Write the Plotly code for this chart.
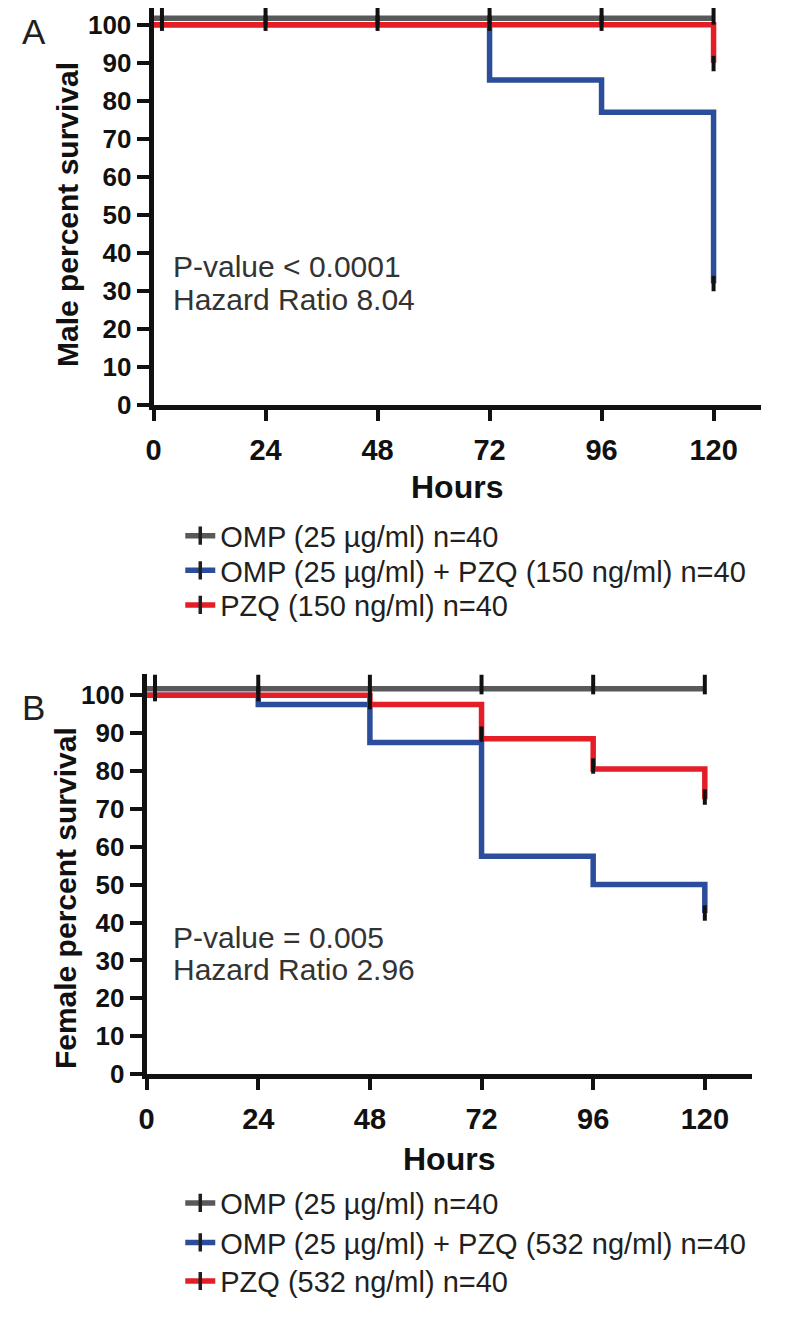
import plotly.graph_objects as go

# ---------------- data ----------------
hour_ticks = [0, 24, 48, 72, 96, 120]
surv_ticks = [0, 10, 20, 30, 40, 50, 60, 70, 80, 90, 100]

series_names_a = ["OMP (25 µg/ml) n=40",
                  "OMP (25 µg/ml) + PZQ (150 ng/ml) n=40",
                  "PZQ (150 ng/ml) n=40"]
series_names_b = ["OMP (25 µg/ml) n=40",
                  "OMP (25 µg/ml) + PZQ (532 ng/ml) n=40",
                  "PZQ (532 ng/ml) n=40"]

# Panel A (male) step curves (hours, percent survival as drawn)
a_omp_t = [0, 120]
a_omp_s = [101.7, 101.7]
a_combo_t = [0, 72, 96, 120]
a_combo_s = [100, 85.5, 77, 32]
a_pzq_t = [0, 120]
a_pzq_s = [100, 90]
# Panel A censor ticks
a_omp_ct = [1.8, 24, 48, 72, 96, 120]
a_omp_cs = [102.6, 102.6, 102.6, 102.6, 102.6, 102.6]
a_pzq_ct = [1.8, 24, 48, 72, 96, 120]
a_pzq_cs = [100.4, 100.4, 100.4, 100.4, 100.4, 89.8]
a_combo_ct = [120]
a_combo_cs = [32]

# Panel B (female) step curves
b_omp_t = [0, 120]
b_omp_s = [101.7, 101.7]
b_combo_t = [0, 24, 48, 72, 96, 120]
b_combo_s = [100, 97.5, 87.5, 57.5, 50, 42.5]
b_pzq_t = [0, 48, 72, 96, 120]
b_pzq_s = [100, 97.5, 88.5, 80.5, 72.5]
# Panel B censor ticks
b_omp_ct = [1.8, 24, 48, 72, 96, 120]
b_omp_cs = [102.8, 102.8, 102.8, 102.8, 102.8, 102.8]
b_pzq_ct = [1.8, 24, 48, 72, 96, 120]
b_pzq_cs = [100.4, 100.4, 98.3, 89.7, 81.3, 73.1]
b_combo_ct = [120]
b_combo_cs = [42.5]

stats_a = ["P-value < 0.0001", "Hazard Ratio 8.04"]
stats_b = ["P-value = 0.005", "Hazard Ratio 2.96"]

# ---------------- style / layout (page pixels) ----------------
OFF = 8                      # page body margin
W, H = 785 - 2 * OFF, 1317 - 2 * OFF
GRAY, BLUE, RED, INK = "#58595b", "#2c4c9c", "#e31e26", "#111111"
colors = [GRAY, BLUE, RED]
FONT = "Liberation Sans, Arial, sans-serif"
LW = 5.5


def px(x):
    return (x - OFF) / W


def py(y):
    return 1 - (y - OFF) / H


fig = go.Figure()


def add_panel(xa, ya, legs, curves, censors, names):
    for (t, s), c in zip(curves, colors):
        fig.add_trace(go.Scatter(x=t, y=s, mode="lines", line=dict(color=c, width=LW, shape="hv"),
                                 xaxis=xa, yaxis=ya, showlegend=False, hoverinfo="skip"))
    for (t, s), sz in zip(censors, [14, 11, 11]):
        fig.add_trace(go.Scatter(x=t, y=s, mode="markers",
                                 marker=dict(symbol="line-ns", size=sz, line=dict(color=INK, width=4)),
                                 xaxis=xa, yaxis=ya, showlegend=False, hoverinfo="skip",
                                 cliponaxis=False))
    for n, c, lg in zip(names, colors, legs):
        fig.add_trace(go.Scatter(x=[None], y=[None], mode="lines+markers", name=n,
                                 line=dict(color=c, width=LW),
                                 marker=dict(symbol="line-ns", size=13, line=dict(color="#231f20", width=3.5)),
                                 xaxis=xa, yaxis=ya, legend=lg))


add_panel("x", "y", ["legend", "legend2", "legend3"],
          [(a_omp_t, a_omp_s), (a_combo_t, a_combo_s), (a_pzq_t, a_pzq_s)],
          [(a_omp_ct, a_omp_cs), (a_combo_ct, a_combo_cs), (a_pzq_ct, a_pzq_cs)],
          series_names_a)
add_panel("x2", "y2", ["legend4", "legend5", "legend6"],
          [(b_omp_t, b_omp_s), (b_combo_t, b_combo_s), (b_pzq_t, b_pzq_s)],
          [(b_omp_ct, b_omp_cs), (b_combo_ct, b_combo_cs), (b_pzq_ct, b_pzq_cs)],
          series_names_b)

xtickfont = dict(family=FONT, size=29, color=INK, weight="bold")
ytickfont = dict(family=FONT, size=26, color=INK, weight="bold")
titlefont = dict(family=FONT, size=32, color=INK, weight="bold")
ytitlefont = dict(family=FONT, size=30, color=INK, weight="bold")
legfont = dict(family=FONT, size=29, color="#231f20")
statfont = dict(family=FONT, size=30, color="#333333")
letterfont = dict(family=FONT, size=35, color="#231f20")

common_x = dict(range=[0, 130.2], tickvals=hour_ticks, ticks="outside", ticklen=11, tickwidth=4,
                tickcolor=INK, showline=True, linewidth=5, linecolor=INK, showgrid=False,
                zeroline=False, tickfont=xtickfont, fixedrange=True, ticklabelstandoff=4)
common_y = dict(tickvals=surv_ticks, ticks="outside", ticklen=12, tickwidth=4,
                tickcolor=INK, showline=True, linewidth=5, linecolor=INK, showgrid=False,
                zeroline=False, tickfont=ytickfont, fixedrange=True)


def leg(y):
    return dict(x=px(174), y=py(y), xanchor="left", yanchor="middle", font=legfont,
                bgcolor="rgba(0,0,0,0)", borderwidth=0)


def note(text, x, y, font, angle=0, anchor="left"):
    return dict(text=text, x=px(x), y=py(y), xref="paper", yref="paper", xanchor=anchor,
                yanchor="middle", showarrow=False, font=font, textangle=angle)


fig.update_layout(
    width=W, height=H, margin=dict(l=0, r=0, t=0, b=0),
    paper_bgcolor="white", plot_bgcolor="white",
    xaxis=dict(common_x, domain=[px(147), px(761)], anchor="y"),
    yaxis=dict(common_y, range=[0, 104.4], domain=[py(410), 1.0], anchor="x"),
    xaxis2=dict(common_x, domain=[px(140), px(752)], anchor="y2"),
    yaxis2=dict(common_y, range=[0, 105.6], domain=[py(1086.5), py(681.7)], anchor="x2"),
    legend=leg(542), legend2=leg(577), legend3=leg(612),
    legend4=leg(1217), legend5=leg(1257), legend6=leg(1296),
    annotations=[
        note("A", 12, 32, letterfont),
        note("B", 12, 716, letterfont),
        note("Hours", 454, 493, titlefont, anchor="center"),
        note("Hours", 446, 1172, titlefont, anchor="center"),
        note("Male percent survival", 60, 217, ytitlefont, angle=-90, anchor="center"),
        note("Female percent survival", 58, 908, ytitlefont, angle=-90, anchor="center"),
        note(stats_a[0], 165, 270, statfont),
        note(stats_a[1], 165, 303, statfont),
        note(stats_b[0], 165, 948, statfont),
        note(stats_b[1], 165, 981, statfont),
    ],
)

fig.write_html("out.html")
